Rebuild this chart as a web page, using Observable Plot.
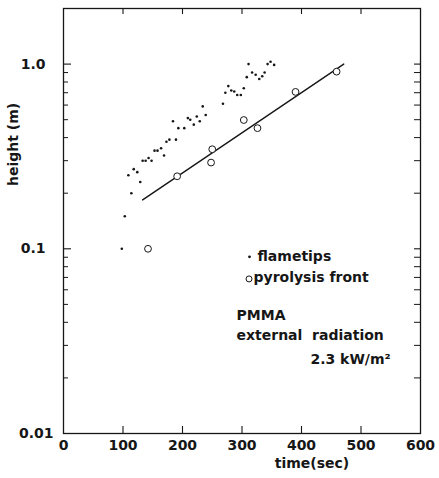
<!DOCTYPE html>
<html>
<head>
<meta charset="utf-8">
<script src="https://cdn.jsdelivr.net/npm/d3@7"></script>
<script src="https://cdn.jsdelivr.net/npm/@observablehq/plot@0.6"></script>
<style>
  html, body { margin: 0; padding: 0; background: #fff; }
</style>
</head>
<body>
<div id="chart"></div>
<script>
// ---- data ----
const flameTime   = [98, 103, 109, 114, 118, 124, 129, 133, 138, 143, 148, 153, 158, 164, 169, 173, 178, 184, 189, 193, 203, 209, 213, 219, 224, 229, 234, 239, 268, 272, 277, 282, 287, 292, 298, 303, 308, 311, 317, 323, 329, 334, 338, 343, 348, 354];
const flameHeight = [0.10, 0.15, 0.25, 0.20, 0.27, 0.26, 0.23, 0.30, 0.30, 0.31, 0.30, 0.34, 0.34, 0.35, 0.32, 0.38, 0.39, 0.49, 0.39, 0.45, 0.45, 0.51, 0.50, 0.47, 0.52, 0.49, 0.59, 0.53, 0.61, 0.70, 0.76, 0.72, 0.71, 0.68, 0.68, 0.74, 0.85, 1.00, 0.90, 0.875, 0.83, 0.86, 0.90, 1.00, 1.03, 0.99];
const pyroTime    = [142, 191, 248, 250, 303, 326, 390, 459];
const pyroHeight  = [0.10, 0.247, 0.293, 0.346, 0.498, 0.45, 0.707, 0.91];
const fitTime     = [133, 471];
const fitHeight   = [0.184, 1.0];

const xTickValues   = [0, 100, 200, 300, 400, 500, 600];
const xInnerTicks   = [100, 200, 300, 400, 500];
const yLabelTicks   = [1, 0.1];
const yLabelText    = ["1.0", "0.1"];
const yBottomTick   = [0.01];
const yBottomText   = ["0.01"];
const yMajorTicks   = [1, 0.1];
const yMinorTicks   = [0.02, 0.03, 0.04, 0.05, 0.06, 0.07, 0.08, 0.09, 0.2, 0.3, 0.4, 0.5, 0.6, 0.7, 0.8, 0.9];

const legendNames  = ["flametips", "pyrolysis front"];
const noteLines    = ["PMMA", "external\u00a0 radiation", "2.3 kW/m\u00b2"];
const xTitle = "time(sec)";
const yTitle = "height (m)";

// ---- tables ----
const flames = flameTime.map((t, i) => ({t, h: flameHeight[i]}));
const pyro   = pyroTime.map((t, i) => ({t, h: pyroHeight[i]}));
const fit    = fitTime.map((t, i) => ({t, h: fitHeight[i]}));

const W = 439, H = 478, ML = 63, MR = 19, MT = 8, MB = 45;
const FW = W - ML - MR, FH = H - MT - MB;
const ink = "#161616";

const chart = Plot.plot({
  width: W,
  height: H,
  marginLeft: ML,
  marginRight: MR,
  marginTop: MT,
  marginBottom: MB,
  style: {fontFamily: "DejaVu Sans", fontSize: "14px", fontWeight: "bold", color: ink, background: "#fff"},
  x: {domain: [0, 600]},
  y: {type: "log", domain: [0.01, 2]},
  marks: [
    Plot.frame({stroke: ink, strokeWidth: 1.3}),
    // inward ticks
    Plot.tickX(xInnerTicks, {x: d => d, insetTop: FH - 7, stroke: ink, strokeWidth: 1.1}),
    Plot.tickX(xInnerTicks, {x: d => d, insetBottom: FH - 6, stroke: ink, strokeWidth: 1.1}),
    Plot.tickY(yMajorTicks, {y: d => d, insetRight: FW - 8, stroke: ink, strokeWidth: 1.1}),
    Plot.tickY(yMinorTicks, {y: d => d, insetRight: FW - 5, stroke: ink, strokeWidth: 1}),
    Plot.tickY(yMajorTicks, {y: d => d, insetLeft: FW - 6, stroke: ink, strokeWidth: 1.1}),
    Plot.tickY(yMinorTicks, {y: d => d, insetLeft: FW - 6, stroke: ink, strokeWidth: 1}),
    // tick labels
    Plot.axisX(xTickValues, {tickSize: 0, tickPadding: 7, label: null, fill: ink}),
    Plot.axisY(yLabelTicks, {tickSize: 0, tickPadding: 18, label: null, fill: ink,
      tickFormat: d => yLabelText[yLabelTicks.indexOf(d)]}),
    Plot.axisY(yBottomTick, {tickSize: 0, tickPadding: 10, label: null, fill: ink,
      tickFormat: d => yBottomText[yBottomTick.indexOf(d)]}),
    // axis titles
    Plot.text([yTitle], {text: d => d, frameAnchor: "left", rotate: -90, dx: -50, dy: -35, fill: ink}),
    Plot.text([xTitle], {text: d => d, frameAnchor: "bottom", dx: 70, dy: 34, fill: ink}),
    // data
    Plot.line(fit, {x: "t", y: "h", stroke: ink, strokeWidth: 1.4}),
    Plot.dot(flames, {x: "t", y: "h", r: 1.3, fill: ink, stroke: "none"}),
    Plot.dot(pyro, {x: "t", y: "h", r: 3.4, fill: "#fff", stroke: ink, strokeWidth: 1}),
    // legend
    Plot.dot([legendNames[0]], {x: 312.6, y: 0.0905, r: 1.4, fill: ink, stroke: "none"}),
    Plot.dot([legendNames[1]], {x: 311.8, y: 0.0687, r: 3, fill: "#fff", stroke: ink, strokeWidth: 1}),
    Plot.text([legendNames[0]], {text: d => d, x: 326, y: 0.086, textAnchor: "start", lineAnchor: "bottom", fill: ink}),
    Plot.text([legendNames[1]], {text: d => d, x: 319.3, y: 0.0662, textAnchor: "start", lineAnchor: "bottom", fill: ink}),
    // annotation
    Plot.text([noteLines[0]], {text: d => d, x: 290.8, y: 0.0411, textAnchor: "start", lineAnchor: "bottom", fill: ink}),
    Plot.text([noteLines[1]], {text: d => d, x: 290.8, y: 0.032, textAnchor: "start", lineAnchor: "bottom", fill: ink}),
    Plot.text([noteLines[2]], {text: d => d, x: 415, y: 0.0237, textAnchor: "start", lineAnchor: "bottom", fill: ink})
  ]
});

document.getElementById("chart").appendChild(chart);
</script>
</body>
</html>
